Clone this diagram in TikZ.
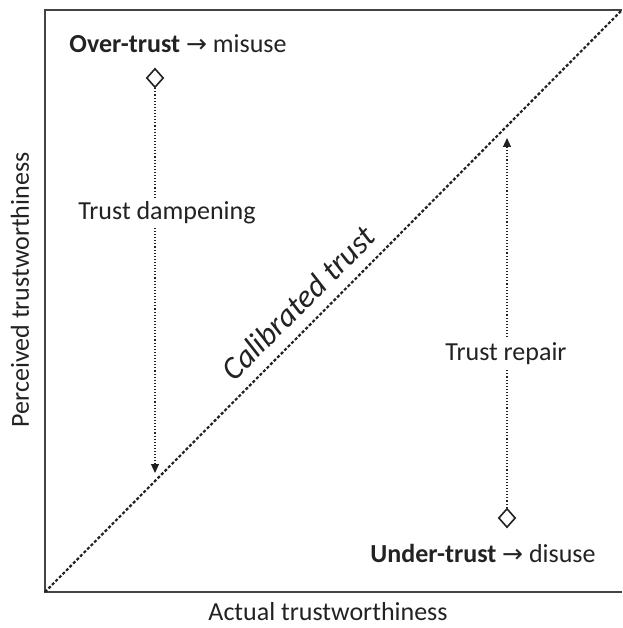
\documentclass[tikz,border=0pt]{standalone}
\usepackage{fontspec}
\setmainfont{Carlito}
\newfontfamily\arrowfont{DejaVu Sans}
\usetikzlibrary{shapes.geometric,arrows.meta}
\definecolor{ink}{HTML}{222222}
\newcommand{\rarr}{{\arrowfont\fontsize{25}{30}\selectfont →}}
\tikzset{
  axisline/.style={draw=ink!85, line width=1.6pt},
  diag/.style={draw=ink, line width=2.2pt, dash pattern=on 3pt off 2pt},
  mover/.style={draw=ink, line width=1.1pt, dotted, -{Triangle[width=8pt,length=9pt]}},
  marker/.style={diamond, draw=ink, line width=1.6pt, fill=white, minimum width=17pt, minimum height=19pt, inner sep=0pt},
  lab/.style={text=ink, font=\fontsize{26}{31}\selectfont, inner sep=2pt},
  movelab/.style={lab, fill=white, inner sep=4pt},
}
\begin{document}
\begin{tikzpicture}[x=1pt,y=-1pt]
\useasboundingbox (0,0) rectangle (622,628);
% axes
\coordinate (O) at (45,592);
\coordinate (TL) at (45,10);
\coordinate (TR) at (622,10);
\coordinate (BR) at (622,592);
\draw[axisline] (TR) -- (TL) -- (O) -- (BR);
% diagonal
\draw[diag] (O) -- (TR);
% markers
\node[marker] (over) at (155,78) {};
\node[marker] (under) at (507,518) {};
\coordinate (dampEnd) at (155,473);
\coordinate (repairEnd) at (507,138);
\draw[mover] (over) -- (dampEnd);
\draw[mover] (under) -- (repairEnd);
% labels
\node[movelab] (damp) at (167,213) {Trust dampening};
\node[movelab] (repair) at (506,354) {Trust repair};
\node[lab] (overlab) at (178,44) {\textbf{Over-trust} \rarr{} misuse};
\node[lab] (underlab) at (483,553) {\textbf{Under-trust} \rarr{} disuse};
\node[lab, rotate=45, font=\fontsize{32}{38}\selectfont\itshape] (calib) at (298,303) {Calibrated trust};
\node[lab] (xlab) at (328,612) {Actual trustworthiness};
\node[lab, rotate=90] (ylab) at (20,290) {Perceived trustworthiness};
\end{tikzpicture}
\end{document}
